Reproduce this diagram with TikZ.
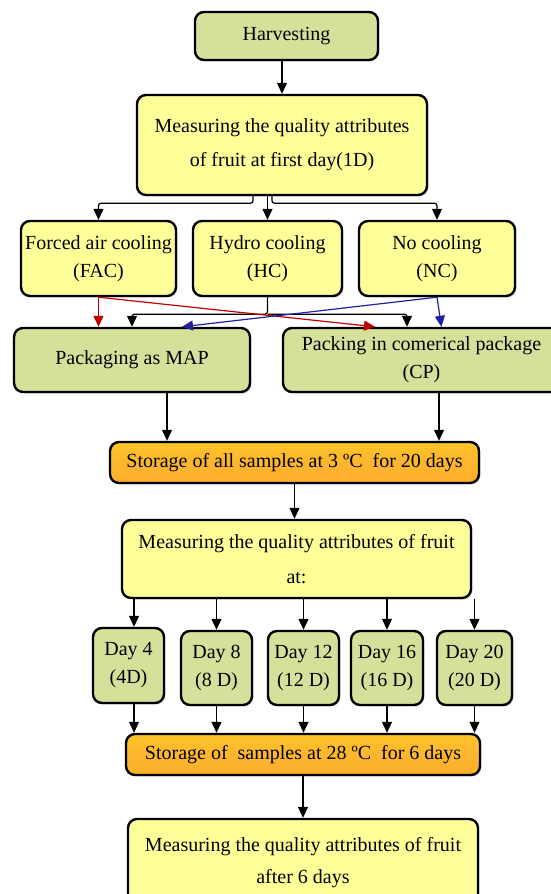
\documentclass[tikz,border=0pt]{standalone}
\usepackage{fontspec}
\setmainfont{Liberation Serif}
\usetikzlibrary{arrows.meta,shadows}
\definecolor{boxyellow}{HTML}{FFFF99}
\definecolor{boxgreen}{HTML}{D5E19A}
\definecolor{boxorange}{HTML}{FDB630}
\definecolor{arrred}{HTML}{C00000}
\definecolor{arrblue}{HTML}{1F1FA0}
\begin{document}
\begin{tikzpicture}[x=1pt,y=-1pt,
  box/.style={draw=black, line width=2.4pt, rounded corners=9pt, align=center, inner sep=0pt,
    font=\fontsize{20}{28}\selectfont,
    drop shadow={shadow xshift=1.5pt,shadow yshift=-1.5pt,opacity=0.25}},
  ybox/.style={box, fill=boxyellow},
  gbox/.style={box, fill=boxgreen},
  obox/.style={box, top color=boxorange!80!yellow, bottom color=boxorange!85!orange, middle color=boxorange},
  arr/.style={-{Triangle[length=11pt,width=10pt]}, line width=1.2pt, rounded corners=2.5pt},
  rarr/.style={arr, draw=arrred, -{Triangle[length=11pt,width=10pt,fill=arrred]}},
  barr/.style={arr, draw=arrblue, -{Triangle[length=11pt,width=10pt,fill=arrblue]}}
]
\useasboundingbox (0,0) rectangle (550,894);

\node[gbox, minimum width=183pt, minimum height=48pt] (harv) at (286.5,36) {Harvesting};
\node[ybox, minimum width=290pt, minimum height=100pt, font=\fontsize{20}{34}\selectfont] (m1) at (282,145)
  {Measuring the quality attributes\\of fruit at first day(1D)};

\node[ybox, minimum width=155pt, minimum height=75pt] (fac) at (98.5,258.5) {Forced air cooling\\(FAC)};
\node[ybox, minimum width=149pt, minimum height=75pt] (hc) at (267.5,258.5) {Hydro cooling\\(HC)};
\node[ybox, minimum width=156pt, minimum height=75pt] (nc) at (437,258.5) {No cooling\\(NC)};

\node[gbox, minimum width=236pt, minimum height=64pt] (map) at (132,360) {Packaging as MAP};
\node[gbox, minimum width=277pt, minimum height=64pt] (cp) at (421.5,360) {Packing in comerical package\\(CP)};

\node[obox, minimum width=369pt, minimum height=41pt] (st1) at (294.5,462.5) {Storage of all samples at 3 ºC\ \ for 20 days};

\node[ybox, minimum width=349pt, minimum height=78pt, font=\fontsize{20}{35}\selectfont] (m2) at (296.5,559)
  {Measuring the quality attributes of fruit\\at:};

\node[gbox, minimum width=71pt, minimum height=75pt] (d4) at (128.5,665.5) {Day 4\\(4D)};
\node[gbox, minimum width=71pt, minimum height=74pt] (d8) at (216.5,668) {Day 8\\(8 D)};
\node[gbox, minimum width=71pt, minimum height=74pt] (d12) at (303.5,668) {Day 12\\(12 D)};
\node[gbox, minimum width=72pt, minimum height=74pt] (d16) at (387,668) {Day 16\\(16 D)};
\node[gbox, minimum width=75pt, minimum height=74pt] (d20) at (474.5,668) {Day 20\\(20 D)};

\node[obox, minimum width=354pt, minimum height=41pt] (st2) at (303,754.5) {Storage of\ \ samples at 28 ºC\ \ for 6 days};

\node[ybox, minimum width=350pt, minimum height=88pt, font=\fontsize{20}{32}\selectfont] (m3) at (303,863)
  {Measuring the quality attributes of fruit\\after 6 days};

% connectors
\draw[arr] (m1.north |- harv.south) -- (m1.north);
\draw[arr] ([xshift=-29pt]m1.south) -- ++(0,7) -| (fac.north);
\draw[arr] (m1.south -| hc.north) -- (hc.north);
\draw[arr] ([xshift=-10pt]m1.south) -- ++(0,7) -| (nc.north);

\coordinate (hcj) at ([yshift=-17pt]hc.south);
\draw[arr] (hc.south) -- (hcj) -| (map.north);
\draw[arr] (hcj) -| ([xshift=-14.5pt]cp.north);

\draw[rarr] (fac.south) -- (fac.south |- map.north);
\draw[rarr] (fac.south) -- ([xshift=-46.5pt]cp.north);
\draw[barr] (nc.south) -- ([xshift=20pt]cp.north);
\draw[barr] (nc.south) -- ([xshift=50pt]map.north);

\draw[arr] ([xshift=35pt]map.south) -- ([xshift=35pt]map.south |- st1.north);
\draw[arr] ([xshift=17.5pt]cp.south) -- ([xshift=17.5pt]cp.south |- st1.north);
\draw[arr] (st1.south) -- (st1.south |- m2.north);

\draw[arr] ([xshift=5.5pt]m2.south -| d4.north) -- ([xshift=5.5pt]d4.north);
\draw[arr] ([xshift=5.5pt]d4.south) -- ([xshift=5.5pt]d4.south |- st2.north);
\foreach \d in {d8,d12,d16,d20}{
  \draw[arr] (m2.south -| \d.north) -- (\d.north);
  \draw[arr] (\d.south) -- (\d.south |- st2.north);
}
\draw[arr] (st2.south) -- (m3.north);
\end{tikzpicture}
\end{document}
